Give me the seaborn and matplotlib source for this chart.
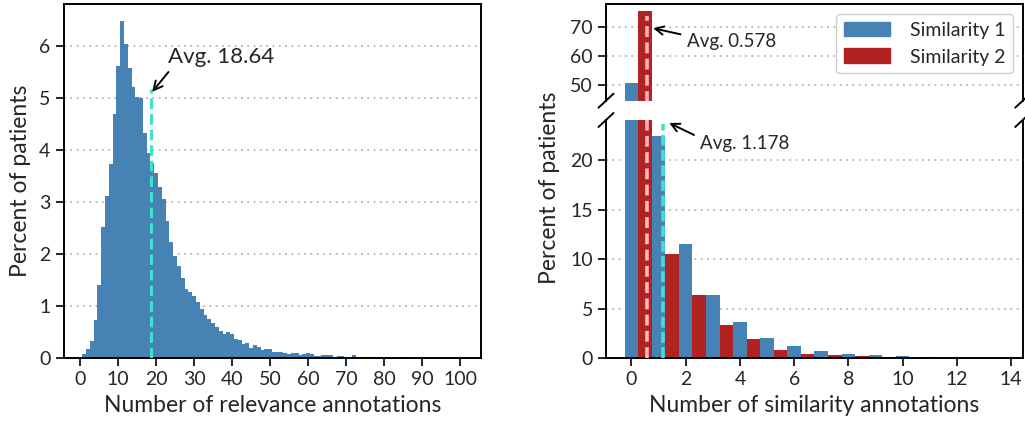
import numpy as np
import pandas as pd
import seaborn as sns
import matplotlib.pyplot as plt
from matplotlib.patches import Patch

# relevance annotations per patient (value -> percent of patients)
rel_counts = list(range(0, 101))
rel_percent = [
    0.0, 0.08, 0.18, 0.33, 0.74, 1.41, 2.53, 3.11, 3.74, 4.70,
    5.62, 6.49, 6.04, 5.58, 5.22, 5.02, 5.00, 4.33, 3.94, 3.75,
    3.57, 3.30, 3.06, 2.63, 2.24, 1.97, 1.78, 1.54, 1.33, 1.27,
    1.20, 1.08, 0.95, 0.83, 0.75, 0.68, 0.61, 0.52, 0.47, 0.50,
    0.46, 0.37, 0.35, 0.27, 0.29, 0.20, 0.25, 0.21, 0.16, 0.17,
    0.17, 0.13, 0.13, 0.13, 0.10, 0.08, 0.10, 0.10, 0.06, 0.08,
    0.10, 0.08, 0.04, 0.04, 0.06, 0.06, 0.06, 0.025, 0.04, 0.04,
    0.025, 0.025, 0.06, 0.02, 0.02, 0.02, 0.02, 0.02, 0.02, 0.02,
    0.03, 0.02, 0.01, 0.01, 0.01, 0.02, 0.01, 0.01, 0.01, 0.01,
    0.01, 0.01, 0.01, 0.02, 0.005, 0.005, 0.005, 0.005, 0.005, 0.005,
    0.005,
]
rel_avg = 18.64

# similarity annotations per patient
sim_counts = list(range(0, 15))
sim1_percent = [50.5, 22.5, 11.56, 6.4, 3.6, 2.03, 1.18, 0.68, 0.4, 0.3,
                0.17, 0.07, 0.03, 0.02, 0.01]
sim2_percent = [75.7, 10.55, 6.4, 3.3, 1.93, 0.78, 0.4, 0.27, 0.17, 0.1,
                0.05, 0.03, 0.02, 0.01, 0.0]
sim1_avg = 1.178
sim2_avg = 0.578

blue = "#4682B4"
red = "#B22222"
turq = "#40E0D0"
pink = "#FFB6C1"

sns.set_style("ticks")
plt.rcParams['font.family'] = ['Lato', 'DejaVu Sans']
plt.rcParams['axes.linewidth'] = 1.4
plt.rcParams['xtick.major.width'] = 1.4
plt.rcParams['ytick.major.width'] = 1.4
plt.rcParams['xtick.major.size'] = 6
plt.rcParams['ytick.major.size'] = 6
plt.rcParams['xtick.labelsize'] = 14
plt.rcParams['ytick.labelsize'] = 14
plt.rcParams['axes.edgecolor'] = 'black'

W, H = 1025, 424
fig = plt.figure(figsize=(W / 100, H / 100), dpi=100)


def px_axes(x0, y0, x1, y1):
    return fig.add_axes([x0 / W, 1 - y1 / H, (x1 - x0) / W, (y1 - y0) / H])


grid_kw = dict(color="#b5b5b5", linestyle=(0, (1, 2.5)), linewidth=1.3)
label_fs = 16.5

# ---------------- left chart ----------------
ax = px_axes(63.5, 4, 481, 358.3)
sns.histplot(x=rel_counts, weights=rel_percent, discrete=True, color=blue,
             alpha=1, linewidth=0, ax=ax, zorder=2)
ax.yaxis.grid(True, **grid_kw)
ax.set_axisbelow(True)
ax.vlines(rel_avg, 0, 5.18, color=turq, linewidth=2.2,
          linestyles=[(0, (3.5, 1.6))], zorder=3)
ax.annotate("Avg. 18.64", xy=(rel_avg + 0.3, 5.12), xytext=(23.0, 5.8),
            fontsize=16, ha="left", va="center",
            arrowprops=dict(arrowstyle="->", color="black", lw=1.4,
                            relpos=(0.05, 0.0), shrinkA=2, shrinkB=0,
                            mutation_scale=16))
ax.set_xlim(-4.4, 105.5)
ax.set_ylim(0, 6.81)
ax.set_xticks(range(0, 101, 10))
ax.set_yticks(range(0, 7))
ax.set_xlabel("Number of relevance annotations", fontsize=label_fs,
              labelpad=5)
ax.set_ylabel("Percent of patients", fontsize=label_fs, labelpad=6)

# ---------------- right chart (broken y axis) ----------------
ax_top = px_axes(606, 4, 1022.7, 100.7)
ax_bot = px_axes(606, 120, 1022.7, 358)

for a in (ax_top, ax_bot):
    sns.histplot(x=sim_counts, weights=sim1_percent, discrete=True, shrink=0.5,
                 color=blue, alpha=1, linewidth=0, ax=a, zorder=2)
    sns.histplot(x=[c + 0.5 for c in sim_counts], weights=sim2_percent,
                 discrete=True, shrink=0.5, color=red, alpha=1, linewidth=0,
                 ax=a, zorder=2)
    a.yaxis.grid(True, **grid_kw)
    a.set_axisbelow(True)
    a.set_xlim(-0.94, 14.43)
    a.set_xlabel("")
    a.set_ylabel("")

ax_top.vlines(sim2_avg, 44, 74, color=pink, linewidth=2.6,
              linestyles=[(0, (3, 1.5))], zorder=3)
ax_bot.vlines(sim2_avg, 0, 25, color=pink, linewidth=2.6,
              linestyles=[(0, (3, 1.5))], zorder=3)
ax_bot.vlines(sim1_avg, 0, 23.7, color=turq, linewidth=2.6,
              linestyles=[(0, (3, 1.2))], zorder=3)

ax_top.set_ylim(44.4, 78.1)
ax_top.set_yticks([50, 60, 70])
ax_top.spines['bottom'].set_visible(False)
ax_top.tick_params(axis='x', bottom=False, labelbottom=False)

ax_bot.set_ylim(0, 24.1)
ax_bot.set_yticks([0, 5, 10, 15, 20])
ax_bot.set_xticks(range(0, 15, 2))
ax_bot.spines['top'].set_visible(False)
ax_bot.set_xlabel("Number of similarity annotations", fontsize=label_fs,
                  labelpad=5)

# break marks
dx = 7.5 / 416.7
kw = dict(color="black", lw=1.4, clip_on=False)
dy = 7 / 96.7
ax_top.plot((-dx, dx), (-dy, dy), transform=ax_top.transAxes, **kw)
ax_top.plot((1 - dx, 1 + dx), (-dy, dy), transform=ax_top.transAxes, **kw)
dy = 7 / 238
ax_bot.plot((-dx, dx), (1 - dy, 1 + dy), transform=ax_bot.transAxes, **kw)
ax_bot.plot((1 - dx, 1 + dx), (1 - dy, 1 + dy), transform=ax_bot.transAxes, **kw)

arrow_kw = dict(arrowstyle="->", color="black", lw=1.4, shrinkA=2, shrinkB=0,
                mutation_scale=15)
ax_top.annotate("Avg. 0.578", xy=(0.80, 69.65), xytext=(2.03, 65.0),
                fontsize=13.5, ha="left", va="center",
                arrowprops=dict(relpos=(0.0, 0.85), **arrow_kw))
ax_bot.annotate("Avg. 1.178", xy=(1.39, 23.8), xytext=(2.52, 21.7),
                fontsize=13.5, ha="left", va="center",
                arrowprops=dict(relpos=(0.0, 0.85), **arrow_kw))

handles = [Patch(color=blue, label="Similarity 1"),
           Patch(color=red, label="Similarity 2")]
ax_top.legend(handles=handles, loc="upper right", fontsize=14,
              frameon=True, fancybox=True, edgecolor="#d0d0d0",
              framealpha=1, handlelength=2.4, handleheight=0.8,
              borderaxespad=0.5, handletextpad=1.0)

fig.text(549 / W, 1 - 188 / H, "Percent of patients", fontsize=label_fs,
         rotation=90, ha="center", va="center")

fig.savefig("out.png", dpi=100)
